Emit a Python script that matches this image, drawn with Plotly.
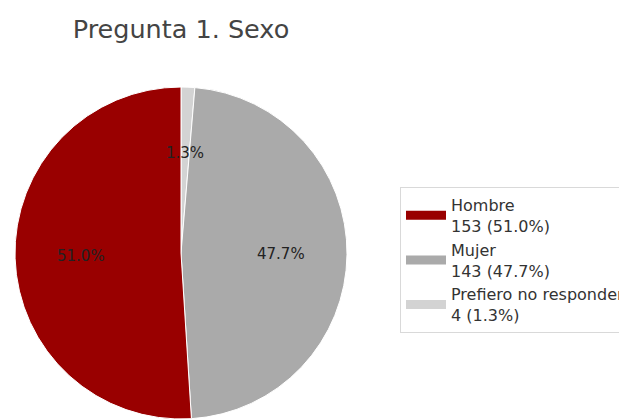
import math
import plotly.graph_objects as go

title = "Pregunta 1. Sexo"
categories = ["Hombre", "Mujer", "Prefiero no responder"]
counts = [153, 143, 4]
colors = ["#990000", "#aaaaaa", "#d3d3d3"]

total = sum(counts)
pcts = [c / total * 100 for c in counts]
legend_names = [f"{n}<br>{c} ({p:.1f}%)" for n, c, p in zip(categories, counts, pcts)]

W, H = 619, 419
dom_x = [13 / W, 349 / W]
dom_y = [0.0, (H - 87) / H]

fig = go.Figure()

# Pie drawn clockwise with reversed order == counterclockwise from 12 o'clock
fig.add_trace(go.Pie(
    labels=categories[::-1],
    values=counts[::-1],
    marker=dict(colors=colors[::-1], line=dict(color="white", width=1)),
    sort=False,
    direction="clockwise",
    rotation=0,
    textinfo="none",
    hoverinfo="label+percent",
    domain=dict(x=dom_x, y=dom_y),
    showlegend=False,
))

# legend entries drawn as wide patches
for name, col in zip(legend_names, colors):
    fig.add_trace(go.Scatter(x=[None], y=[None], mode="lines", name=name,
                             line=dict(color=col, width=9), showlegend=True))

# percentage labels at 0.6 of radius (counterclockwise from 12 o'clock)
cx = (dom_x[0] + dom_x[1]) / 2
cy = (dom_y[0] + dom_y[1]) / 2
r_px = min((dom_x[1] - dom_x[0]) * W, (dom_y[1] - dom_y[0]) * H) / 2
start = 90.0
for val, p in zip(counts, pcts):
    span = val / total * 360
    mid = math.radians(start + span / 2)
    start += span
    x = cx + 0.6 * r_px * math.cos(mid) / W
    y = cy + 0.6 * r_px * math.sin(mid) / H
    fig.add_annotation(x=x, y=y, xref="paper", yref="paper", text=f"{p:.1f}%",
                       xanchor="center", yanchor="middle", showarrow=False,
                       font=dict(family="DejaVu Sans", size=15, color="#222222"))

fig.update_layout(
    width=W, height=H,
    margin=dict(l=0, r=0, t=0, b=0, autoexpand=False),
    paper_bgcolor="white",
    plot_bgcolor="white",
    xaxis=dict(visible=False),
    yaxis=dict(visible=False),
    title=dict(text=title, x=181 / W, xanchor="center", y=1 - 29 / H, yanchor="middle",
               font=dict(family="DejaVu Sans", size=25.5, color="#444444")),
    legend=dict(x=400 / W, xanchor="left", y=1 - 187 / H, yanchor="top",
                bordercolor="#d9d9d9", borderwidth=1, bgcolor="white",
                font=dict(family="DejaVu Sans", size=16, color="#333333"),
                itemwidth=40, itemclick=False),
)

fig.write_html("out.html")
